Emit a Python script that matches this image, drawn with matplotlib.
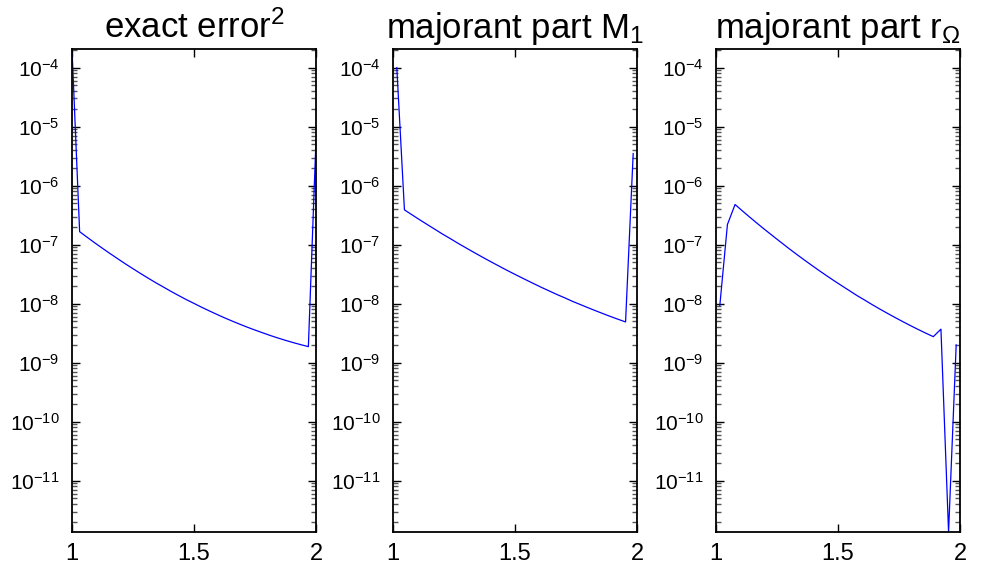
import numpy as np
import matplotlib
matplotlib.use('Agg')
import matplotlib.pyplot as plt
from matplotlib.ticker import LogLocator, NullFormatter, FixedLocator

plt.rcParams['font.family'] = ['Liberation Sans', 'DejaVu Sans']
plt.rcParams['mathtext.fontset'] = 'custom'
plt.rcParams['mathtext.rm'] = 'Liberation Sans'
plt.rcParams['mathtext.it'] = 'Liberation Sans'
plt.rcParams['mathtext.sf'] = 'Liberation Sans'

# node points (h = 1/32) for the exact error, element midpoints for the majorant parts
x_nodes = [1 + k / 32 for k in range(33)]
x_mid = [1 + (k - 0.5) / 32 for k in range(1, 33)]

# exact error^2 at the nodes
err_exact = [2.07e-4, 1.66e-7, 1.33e-7, 1.07e-7, 8.67e-8, 7.05e-8, 5.77e-8, 4.73e-8,
             3.91e-8, 3.24e-8, 2.70e-8, 2.26e-8, 1.91e-8, 1.61e-8, 1.37e-8, 1.17e-8,
             1.01e-8, 8.70e-9, 7.55e-9, 6.58e-9, 5.76e-9, 5.07e-9, 4.49e-9, 3.99e-9,
             3.57e-9, 3.21e-9, 2.89e-9, 2.62e-9, 2.39e-9, 2.19e-9, 2.02e-9, 1.87e-9,
             6.0e-6]

# majorant part M_1 at the midpoints
maj_m1 = [1.0e-4, 3.89e-7, 3.20e-7, 2.64e-7, 2.19e-7, 1.82e-7, 1.51e-7, 1.27e-7,
          1.06e-7, 8.93e-8, 7.54e-8, 6.38e-8, 5.42e-8, 4.62e-8, 3.94e-8, 3.38e-8,
          2.91e-8, 2.51e-8, 2.17e-8, 1.88e-8, 1.64e-8, 1.43e-8, 1.26e-8, 1.10e-8,
          9.74e-9, 8.62e-9, 7.65e-9, 6.81e-9, 6.08e-9, 5.45e-9, 4.90e-9, 3.5e-6]

# majorant part r_Omega at the midpoints
maj_r = [9.3e-9, 2.2e-7, 4.79e-7, 3.70e-7, 2.87e-7, 2.24e-7, 1.76e-7, 1.39e-7,
         1.10e-7, 8.73e-8, 6.97e-8, 5.60e-8, 4.52e-8, 3.66e-8, 2.98e-8, 2.44e-8,
         2.01e-8, 1.66e-8, 1.37e-8, 1.15e-8, 9.60e-9, 8.08e-9, 6.84e-9, 5.81e-9,
         4.96e-9, 4.25e-9, 3.66e-9, 3.17e-9, 2.76e-9, 3.7e-9, 1.35e-12, 2.0e-9]

titles = ['exact error$^2$', 'majorant part M$_1$', 'majorant part r$_\\Omega$']
y_ticks = [1e-4, 1e-5, 1e-6, 1e-7, 1e-8, 1e-9, 1e-10, 1e-11]
x_ticks = [1, 1.5, 2]
x_ticklabels = ['1', '1.5', '2']

# common y range from all three series
ymin = min(min(err_exact), min(maj_m1), min(maj_r))
ymax = max(max(err_exact), max(maj_m1), max(maj_r))

fig = plt.figure(figsize=(9.84, 5.66), dpi=100)
lefts = [72 / 984, 393 / 984, 716 / 984]
series = [(x_nodes, err_exact), (x_mid, maj_m1), (x_mid, maj_r)]

for left, (xs, ys), title in zip(lefts, series, titles):
    ax = fig.add_axes([left, 34 / 566, 244 / 984, 483 / 566])
    ax.semilogy(xs, ys, color='#0000ff', linewidth=0.9)
    ax.set_xlim(1, 2)
    ax.set_ylim(ymin, ymax)
    ax.xaxis.set_major_locator(FixedLocator(x_ticks))
    ax.set_xticklabels(x_ticklabels)
    ax.yaxis.set_major_locator(FixedLocator(y_ticks))
    ax.yaxis.set_minor_locator(LogLocator(base=10, subs=np.arange(2, 10), numticks=30))
    ax.yaxis.set_minor_formatter(NullFormatter())
    ax.tick_params(which='both', direction='in', top=True, right=True, width=1.0)
    ax.tick_params(which='major', length=6, pad=9)
    ax.tick_params(which='minor', length=3.5, color='#555555')
    ax.tick_params(axis='x', labelsize=17, pad=8)
    ax.tick_params(axis='y', labelsize=15)
    for sp in ax.spines.values():
        sp.set_linewidth(1.3)
    ax.set_title(title, fontsize=25, pad=8)

plt.savefig('out.png', dpi=100)
